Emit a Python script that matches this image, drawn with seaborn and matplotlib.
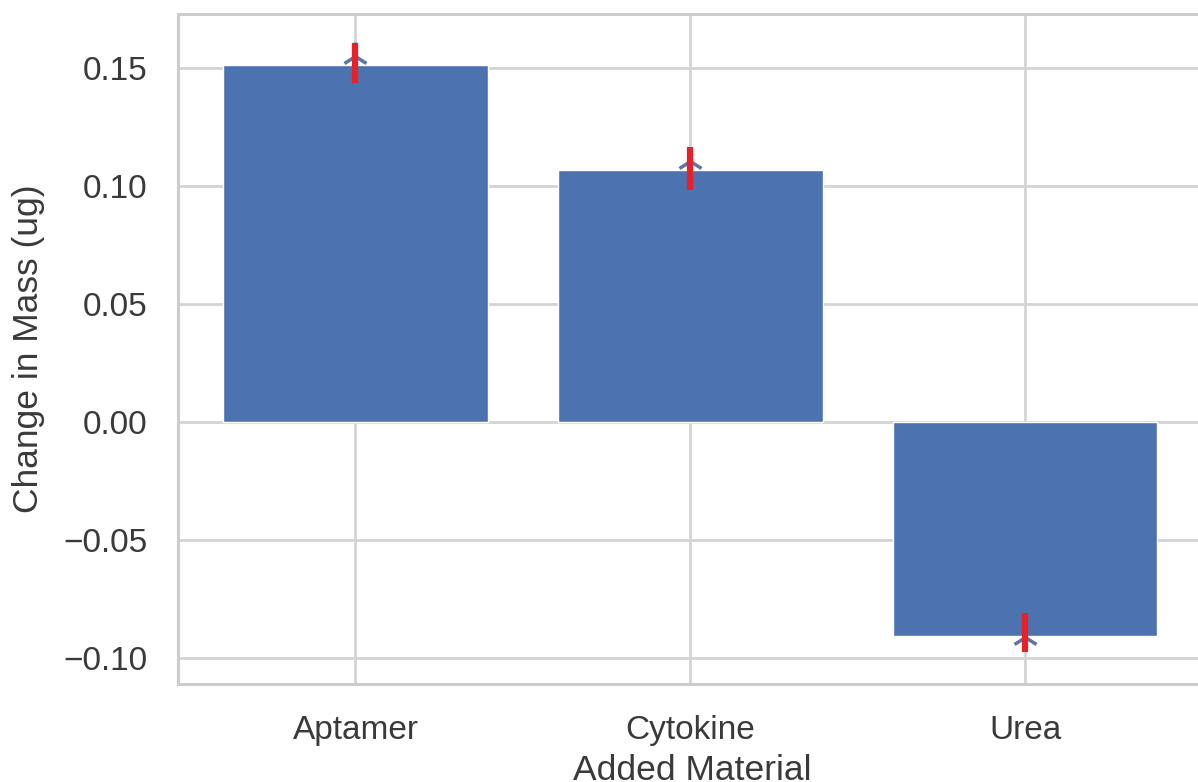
import matplotlib
matplotlib.use("Agg")
import matplotlib.pyplot as plt
import seaborn as sns
import pandas as pd
import numpy as np

categories = ["Aptamer", "Cytokine", "Urea"]
bar_values = [0.1512, 0.1066, -0.0905]
marker_values = [0.1550, 0.1105, -0.0910]
err_center = [0.1521, 0.1074, -0.0892]
err_half = [0.0085, 0.0091, 0.0083]
y_ticks = [-0.10, -0.05, 0.00, 0.05, 0.10, 0.15]

sns.set_theme(style="whitegrid")
plt.rcParams['font.family'] = ['Liberation Sans', 'DejaVu Sans']
plt.rcParams['axes.edgecolor'] = '#cccccc'
plt.rcParams['grid.color'] = '#d4d4d4'

fig = plt.figure(figsize=(11.98, 7.82), dpi=100)
ax = fig.add_axes([178/1198, 1-684/782, (1206-178)/1198, (684-14)/782])

df = pd.DataFrame({"Added Material": categories, "Change in Mass (ug)": bar_values})
sns.barplot(data=df, x="Added Material", y="Change in Mass (ug)", color="#4c72b0",
            saturation=1, width=0.79, ax=ax, errorbar=None)

xs = np.arange(len(categories))
ax.plot(xs, marker_values, linestyle='none', marker='2', markersize=20,
        markeredgewidth=2.5, color='#5b76a8', zorder=5)
ax.errorbar(xs, err_center, yerr=err_half, fmt='none', ecolor='#e8202a',
            elinewidth=4.5, zorder=6)

ax.set_xlim(-0.53, 2.54)
ax.set_ylim(-0.111, 0.1729)
ax.set_yticks(y_ticks)
ax.set_yticklabels([f"{v:.2f}".replace("-", "\u2212") for v in y_ticks])
ax.grid(True, linewidth=2)
for s in ax.spines.values():
    s.set_linewidth(2.2)
    s.set_color('#cccccc')
ax.tick_params(axis='both', labelsize=24, colors='#3a3a3a', length=0)
ax.tick_params(axis='y', pad=22)
ax.tick_params(axis='x', pad=22)
ax.set_xlabel("Added Material", fontsize=25.5, color='#3a3a3a', labelpad=6)
ax.set_ylabel("Change in Mass (ug)", fontsize=25.5, color='#3a3a3a', labelpad=13)

fig.savefig("out.png", dpi=100)
